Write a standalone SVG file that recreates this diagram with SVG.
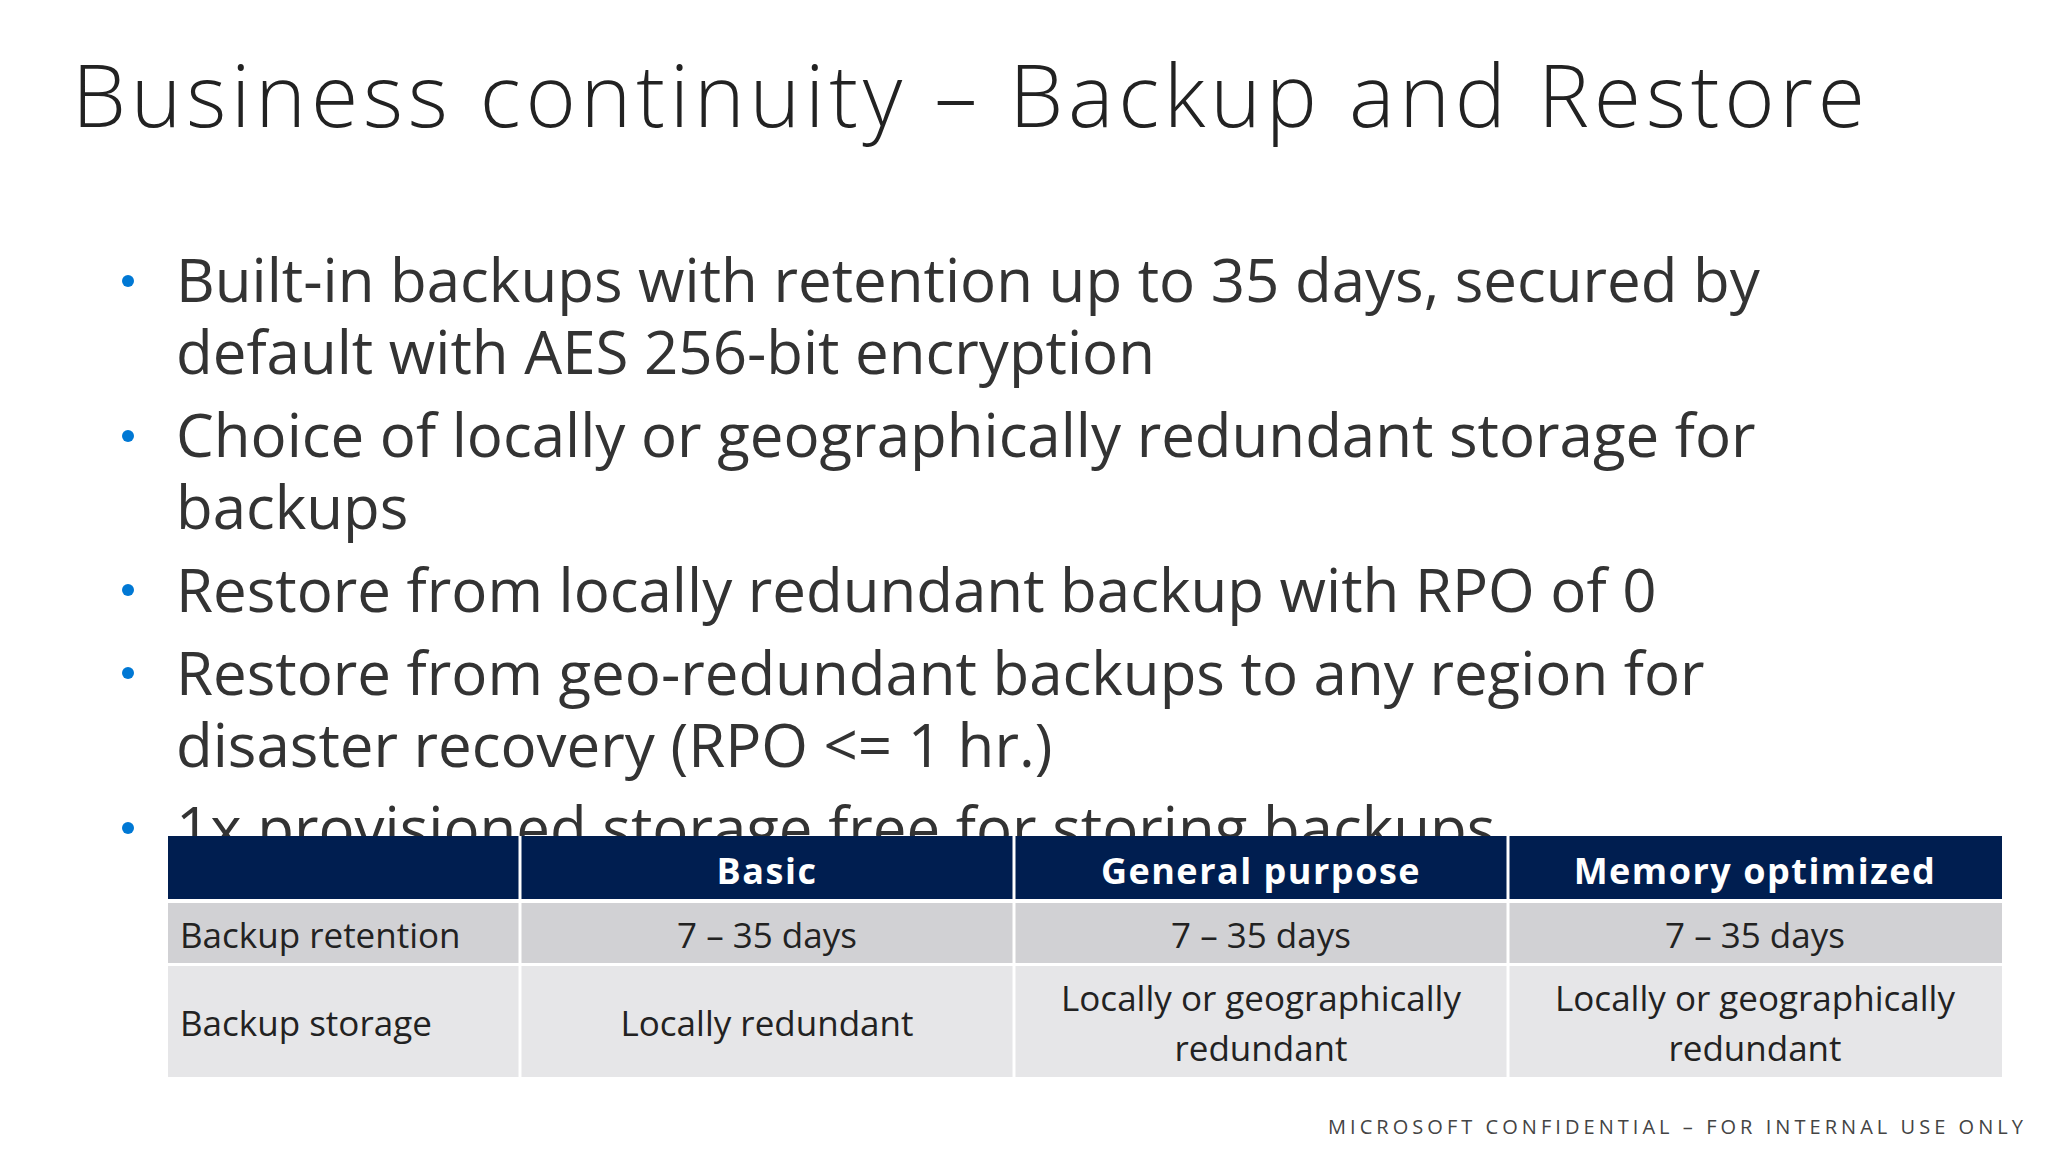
<svg xmlns="http://www.w3.org/2000/svg" width="2048" height="1152" viewBox="0 0 2048 1152">
<defs><clipPath id="cut"><rect x="0" y="760" width="2048" height="76"/></clipPath></defs>
<style>
.t{font-family:"Open Sans","Noto Sans",sans-serif;}
.b{font-family:"Open Sans","Noto Sans",sans-serif;font-size:60px;fill:#333;}
.d{fill:#0078D4;}
.h{font-family:"Open Sans","Noto Sans",sans-serif;font-size:36px;font-weight:bold;fill:#fff;text-anchor:middle;letter-spacing:1.5px;}
.c{font-family:"Open Sans","Noto Sans",sans-serif;font-size:35px;fill:#222;text-anchor:middle;}
.l{font-family:"Open Sans","Noto Sans",sans-serif;font-size:35px;fill:#222;}
</style>
<rect width="2048" height="1152" fill="#fff"/>
<text class="t" x="72" y="127" font-size="86" font-weight="300" fill="#222" textLength="1793" lengthAdjust="spacing">Business continuity – Backup and Restore</text>
<g id="bullets">
<circle class="d" cx="128" cy="281" r="6"/>
<circle class="d" cx="128" cy="436" r="6"/>
<circle class="d" cx="128" cy="590" r="6"/>
<circle class="d" cx="128" cy="673" r="6"/>
<circle class="d" cx="128" cy="828" r="6"/>
<text class="b" x="176" y="302">Built-in backups with retention up to 35 days, secured by</text>
<text class="b" x="176" y="374">default with AES 256-bit encryption</text>
<text class="b" x="176" y="457">Choice of locally or geographically redundant storage for</text>
<text class="b" x="176" y="529">backups</text>
<text class="b" x="176" y="612">Restore from locally redundant backup with RPO of 0</text>
<text class="b" x="176" y="695">Restore from geo-redundant backups to any region for</text>
<text class="b" x="176" y="767">disaster recovery (RPO &lt;= 1 hr.)</text>
<text class="b" x="176" y="850" clip-path="url(#cut)">1x provisioned storage free for storing backups</text>
</g>
<g id="table">
<rect x="168" y="836" width="1834" height="63" fill="#001E50"/>
<rect x="168" y="903" width="1834" height="60" fill="#D1D1D4"/>
<rect x="168" y="966" width="1834" height="111" fill="#E6E6E8"/>
<g stroke="#fff" stroke-width="3">
<line x1="520" y1="836" x2="520" y2="1077"/>
<line x1="1014" y1="836" x2="1014" y2="1077"/>
<line x1="1508" y1="836" x2="1508" y2="1077"/>
</g>
<text class="h" x="767" y="884">Basic</text>
<text class="h" x="1261" y="884">General purpose</text>
<text class="h" x="1755" y="884">Memory optimized</text>
<text class="l" x="180" y="948">Backup retention</text>
<text class="c" x="767" y="948">7 – 35 days</text>
<text class="c" x="1261" y="948">7 – 35 days</text>
<text class="c" x="1755" y="948">7 – 35 days</text>
<text class="l" x="180" y="1036">Backup storage</text>
<text class="c" x="767" y="1036">Locally redundant</text>
<text class="c" x="1261" y="1011">Locally or geographically</text>
<text class="c" x="1261" y="1061">redundant</text>
<text class="c" x="1755" y="1011">Locally or geographically</text>
<text class="c" x="1755" y="1061">redundant</text>
</g>
<text class="t" x="1328" y="1134" font-size="20" fill="#444" textLength="695" lengthAdjust="spacing">MICROSOFT CONFIDENTIAL – FOR INTERNAL USE ONLY</text>
</svg>
